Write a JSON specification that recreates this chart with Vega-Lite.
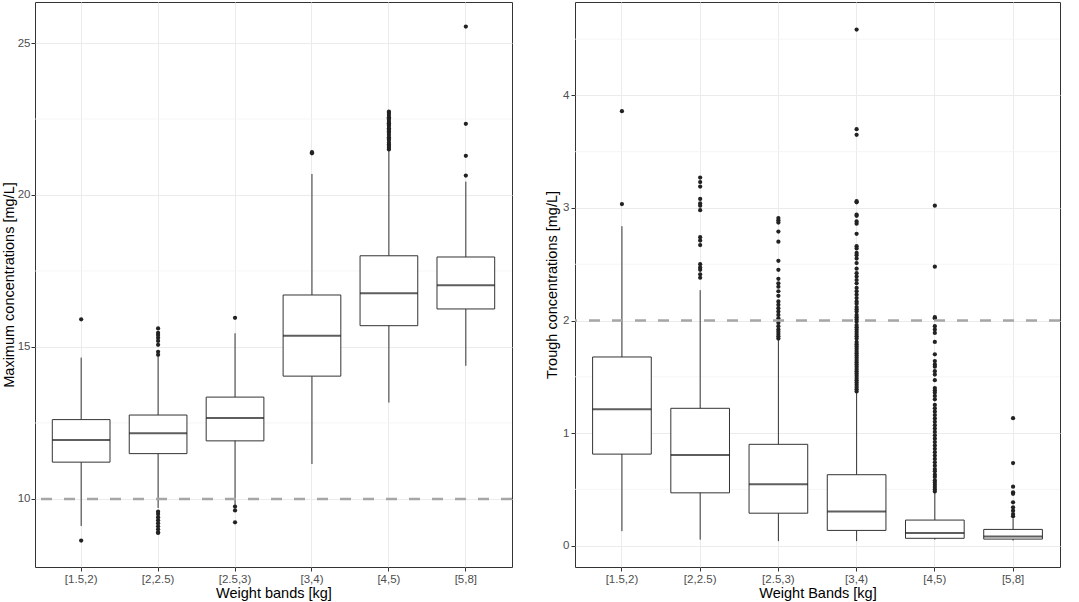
{
  "$schema": "https://vega.github.io/schema/vega-lite/v6.json",
  "padding": {"left": 0, "top": 1, "right": 0, "bottom": 0},
  "background": "white",
  "spacing": 30,
  "config": {
    "view": {"stroke": "#333333", "strokeWidth": 1},
    "axis": {
      "gridColor": "#EBEBEB", "gridWidth": 1, "domain": false,
      "tickColor": "#333333", "tickSize": 4, "labelPadding": 2,
      "labelFont": "Liberation Sans", "labelFontSize": 11.5, "labelColor": "#4D4D4D",
      "titleFont": "Liberation Sans", "titleFontSize": 14.5, "titleFontWeight": "normal", "titleColor": "#000000"
    },
    "axisX": {"labelAngle": 0, "titlePadding": 2},
    "axisY": {"titlePadding": 3, "format": "~g"}
  },
  "datasets": {
    "maxbox": [
      {"band": "[1.5,2)", "lower": 9.11, "q1": 11.21, "median": 11.94, "q3": 12.61, "upper": 14.65},
      {"band": "[2,2.5)", "lower": 9.70, "q1": 11.49, "median": 12.16, "q3": 12.76, "upper": 14.68},
      {"band": "[2.5,3)", "lower": 9.80, "q1": 11.91, "median": 12.66, "q3": 13.35, "upper": 15.45},
      {"band": "[3,4)", "lower": 11.15, "q1": 14.04, "median": 15.37, "q3": 16.71, "upper": 20.69},
      {"band": "[4,5)", "lower": 13.17, "q1": 15.70, "median": 16.77, "q3": 18.00, "upper": 21.48},
      {"band": "[5,8]", "lower": 14.38, "q1": 16.25, "median": 17.03, "q3": 17.96, "upper": 20.44}
    ],
    "maxout": [
      {"band": "[1.5,2)", "value": 15.91}, {"band": "[1.5,2)", "value": 8.63},
      {"band": "[2,2.5)", "value": 15.61}, {"band": "[2,2.5)", "value": 15.46}, {"band": "[2,2.5)", "value": 15.39},
      {"band": "[2,2.5)", "value": 15.30}, {"band": "[2,2.5)", "value": 15.20}, {"band": "[2,2.5)", "value": 15.07},
      {"band": "[2,2.5)", "value": 14.84}, {"band": "[2,2.5)", "value": 14.74},
      {"band": "[2,2.5)", "value": 9.58}, {"band": "[2,2.5)", "value": 9.50}, {"band": "[2,2.5)", "value": 9.40},
      {"band": "[2,2.5)", "value": 9.30}, {"band": "[2,2.5)", "value": 9.20}, {"band": "[2,2.5)", "value": 9.10},
      {"band": "[2,2.5)", "value": 9.00}, {"band": "[2,2.5)", "value": 8.90}, {"band": "[2,2.5)", "value": 8.88},
      {"band": "[2.5,3)", "value": 15.96}, {"band": "[2.5,3)", "value": 9.75}, {"band": "[2.5,3)", "value": 9.62},
      {"band": "[2.5,3)", "value": 9.23},
      {"band": "[3,4)", "value": 21.37}, {"band": "[3,4)", "value": 21.41},
      {"band": "[4,5)", "value": 22.74}, {"band": "[4,5)", "value": 22.70}, {"band": "[4,5)", "value": 22.63},
      {"band": "[4,5)", "value": 22.56}, {"band": "[4,5)", "value": 22.52}, {"band": "[4,5)", "value": 22.47},
      {"band": "[4,5)", "value": 22.40}, {"band": "[4,5)", "value": 22.36}, {"band": "[4,5)", "value": 22.31},
      {"band": "[4,5)", "value": 22.27}, {"band": "[4,5)", "value": 22.20}, {"band": "[4,5)", "value": 22.15},
      {"band": "[4,5)", "value": 22.09}, {"band": "[4,5)", "value": 22.04}, {"band": "[4,5)", "value": 21.97},
      {"band": "[4,5)", "value": 21.90}, {"band": "[4,5)", "value": 21.85}, {"band": "[4,5)", "value": 21.81},
      {"band": "[4,5)", "value": 21.72}, {"band": "[4,5)", "value": 21.66}, {"band": "[4,5)", "value": 21.61},
      {"band": "[4,5)", "value": 21.55}, {"band": "[4,5)", "value": 21.50},
      {"band": "[5,8]", "value": 20.64}, {"band": "[5,8]", "value": 21.29}, {"band": "[5,8]", "value": 22.34},
      {"band": "[5,8]", "value": 25.54}
    ],
    "troughbox": [
      {"band": "[1.5,2)", "lower": 0.129, "q1": 0.813, "median": 1.211, "q3": 1.676, "upper": 2.838},
      {"band": "[2,2.5)", "lower": 0.053, "q1": 0.469, "median": 0.805, "q3": 1.22, "upper": 2.27},
      {"band": "[2.5,3)", "lower": 0.04, "q1": 0.288, "median": 0.545, "q3": 0.90, "upper": 1.83},
      {"band": "[3,4)", "lower": 0.04, "q1": 0.135, "median": 0.303, "q3": 0.63, "upper": 1.36},
      {"band": "[4,5)", "lower": 0.053, "q1": 0.065, "median": 0.112, "q3": 0.227, "upper": 0.465},
      {"band": "[5,8]", "lower": 0.045, "q1": 0.058, "median": 0.082, "q3": 0.144, "upper": 0.24}
    ],
    "troughout": [
      {"band": "[1.5,2)", "value": 3.86}, {"band": "[1.5,2)", "value": 3.035},
      {"band": "[2,2.5)", "value": 3.27}, {"band": "[2,2.5)", "value": 3.23}, {"band": "[2,2.5)", "value": 3.19},
      {"band": "[2,2.5)", "value": 3.08}, {"band": "[2,2.5)", "value": 3.04}, {"band": "[2,2.5)", "value": 3.02},
      {"band": "[2,2.5)", "value": 2.98}, {"band": "[2,2.5)", "value": 2.74}, {"band": "[2,2.5)", "value": 2.71},
      {"band": "[2,2.5)", "value": 2.67}, {"band": "[2,2.5)", "value": 2.50}, {"band": "[2,2.5)", "value": 2.47},
      {"band": "[2,2.5)", "value": 2.45}, {"band": "[2,2.5)", "value": 2.41}, {"band": "[2,2.5)", "value": 2.38},
      {"band": "[2.5,3)", "value": 2.91}, {"band": "[2.5,3)", "value": 2.89}, {"band": "[2.5,3)", "value": 2.87},
      {"band": "[2.5,3)", "value": 2.79}, {"band": "[2.5,3)", "value": 2.70}, {"band": "[2.5,3)", "value": 2.53},
      {"band": "[2.5,3)", "value": 2.45}, {"band": "[2.5,3)", "value": 2.37}, {"band": "[2.5,3)", "value": 2.33},
      {"band": "[2.5,3)", "value": 2.30}, {"band": "[2.5,3)", "value": 2.26}, {"band": "[2.5,3)", "value": 2.22},
      {"band": "[2.5,3)", "value": 2.17}, {"band": "[2.5,3)", "value": 2.14}, {"band": "[2.5,3)", "value": 2.11},
      {"band": "[2.5,3)", "value": 2.08}, {"band": "[2.5,3)", "value": 2.05}, {"band": "[2.5,3)", "value": 2.02},
      {"band": "[2.5,3)", "value": 1.98}, {"band": "[2.5,3)", "value": 1.95}, {"band": "[2.5,3)", "value": 1.92},
      {"band": "[2.5,3)", "value": 1.90}, {"band": "[2.5,3)", "value": 1.88}, {"band": "[2.5,3)", "value": 1.86},
      {"band": "[2.5,3)", "value": 1.84},
      {"band": "[3,4)", "value": 4.585}, {"band": "[3,4)", "value": 3.70}, {"band": "[3,4)", "value": 3.65},
      {"band": "[3,4)", "value": 3.06}, {"band": "[3,4)", "value": 3.05}, {"band": "[3,4)", "value": 2.94},
      {"band": "[3,4)", "value": 2.93}, {"band": "[3,4)", "value": 2.88}, {"band": "[3,4)", "value": 2.86},
      {"band": "[3,4)", "value": 2.77}, {"band": "[3,4)", "value": 2.66}, {"band": "[3,4)", "value": 2.64},
      {"band": "[3,4)", "value": 2.60}, {"band": "[3,4)", "value": 2.58}, {"band": "[3,4)", "value": 2.55},
      {"band": "[3,4)", "value": 2.51}, {"band": "[3,4)", "value": 2.46}, {"band": "[3,4)", "value": 2.42},
      {"band": "[3,4)", "value": 2.39}, {"band": "[3,4)", "value": 2.36}, {"band": "[3,4)", "value": 2.33},
      {"band": "[3,4)", "value": 2.29}, {"band": "[3,4)", "value": 2.26}, {"band": "[3,4)", "value": 2.23},
      {"band": "[3,4)", "value": 2.20}, {"band": "[3,4)", "value": 2.17}, {"band": "[3,4)", "value": 2.15},
      {"band": "[3,4)", "value": 2.12}, {"band": "[3,4)", "value": 2.10}, {"band": "[3,4)", "value": 2.08},
      {"band": "[3,4)", "value": 2.05}, {"band": "[3,4)", "value": 2.03}, {"band": "[3,4)", "value": 2.01},
      {"band": "[3,4)", "value": 1.99}, {"band": "[3,4)", "value": 1.96}, {"band": "[3,4)", "value": 1.94},
      {"band": "[3,4)", "value": 1.92}, {"band": "[3,4)", "value": 1.90}, {"band": "[3,4)", "value": 1.88},
      {"band": "[3,4)", "value": 1.86}, {"band": "[3,4)", "value": 1.84}, {"band": "[3,4)", "value": 1.81},
      {"band": "[3,4)", "value": 1.79}, {"band": "[3,4)", "value": 1.77}, {"band": "[3,4)", "value": 1.75},
      {"band": "[3,4)", "value": 1.73}, {"band": "[3,4)", "value": 1.71}, {"band": "[3,4)", "value": 1.69},
      {"band": "[3,4)", "value": 1.67}, {"band": "[3,4)", "value": 1.65}, {"band": "[3,4)", "value": 1.63},
      {"band": "[3,4)", "value": 1.61}, {"band": "[3,4)", "value": 1.59}, {"band": "[3,4)", "value": 1.57},
      {"band": "[3,4)", "value": 1.55}, {"band": "[3,4)", "value": 1.53}, {"band": "[3,4)", "value": 1.51},
      {"band": "[3,4)", "value": 1.49}, {"band": "[3,4)", "value": 1.47}, {"band": "[3,4)", "value": 1.45},
      {"band": "[3,4)", "value": 1.43}, {"band": "[3,4)", "value": 1.41}, {"band": "[3,4)", "value": 1.39},
      {"band": "[3,4)", "value": 1.37},
      {"band": "[4,5)", "value": 3.02}, {"band": "[4,5)", "value": 2.478}, {"band": "[4,5)", "value": 2.03},
      {"band": "[4,5)", "value": 2.02}, {"band": "[4,5)", "value": 1.95}, {"band": "[4,5)", "value": 1.92},
      {"band": "[4,5)", "value": 1.89}, {"band": "[4,5)", "value": 1.81}, {"band": "[4,5)", "value": 1.70},
      {"band": "[4,5)", "value": 1.64}, {"band": "[4,5)", "value": 1.61}, {"band": "[4,5)", "value": 1.59},
      {"band": "[4,5)", "value": 1.55}, {"band": "[4,5)", "value": 1.52}, {"band": "[4,5)", "value": 1.47},
      {"band": "[4,5)", "value": 1.40}, {"band": "[4,5)", "value": 1.38}, {"band": "[4,5)", "value": 1.36},
      {"band": "[4,5)", "value": 1.33}, {"band": "[4,5)", "value": 1.30}, {"band": "[4,5)", "value": 1.25},
      {"band": "[4,5)", "value": 1.22}, {"band": "[4,5)", "value": 1.19}, {"band": "[4,5)", "value": 1.16},
      {"band": "[4,5)", "value": 1.13}, {"band": "[4,5)", "value": 1.10}, {"band": "[4,5)", "value": 1.07},
      {"band": "[4,5)", "value": 1.04}, {"band": "[4,5)", "value": 1.01}, {"band": "[4,5)", "value": 0.98},
      {"band": "[4,5)", "value": 0.95}, {"band": "[4,5)", "value": 0.92}, {"band": "[4,5)", "value": 0.89},
      {"band": "[4,5)", "value": 0.86}, {"band": "[4,5)", "value": 0.83}, {"band": "[4,5)", "value": 0.80},
      {"band": "[4,5)", "value": 0.77}, {"band": "[4,5)", "value": 0.74}, {"band": "[4,5)", "value": 0.71},
      {"band": "[4,5)", "value": 0.68}, {"band": "[4,5)", "value": 0.66}, {"band": "[4,5)", "value": 0.63},
      {"band": "[4,5)", "value": 0.61}, {"band": "[4,5)", "value": 0.58}, {"band": "[4,5)", "value": 0.56},
      {"band": "[4,5)", "value": 0.54}, {"band": "[4,5)", "value": 0.52}, {"band": "[4,5)", "value": 0.50},
      {"band": "[4,5)", "value": 0.48},
      {"band": "[5,8]", "value": 1.132}, {"band": "[5,8]", "value": 0.734}, {"band": "[5,8]", "value": 0.524},
      {"band": "[5,8]", "value": 0.474}, {"band": "[5,8]", "value": 0.46}, {"band": "[5,8]", "value": 0.385},
      {"band": "[5,8]", "value": 0.34}, {"band": "[5,8]", "value": 0.31}, {"band": "[5,8]", "value": 0.28},
      {"band": "[5,8]", "value": 0.26}
    ]
  },
  "hconcat": [
    {
      "width": 477,
      "height": 565,
      "layer": [
        {
          "data": {"values": [{"g": 12.5}, {"g": 17.5}, {"g": 22.5}]},
          "mark": {"type": "rule", "color": "#F3F3F3", "strokeWidth": 0.8},
          "encoding": {"y": {"field": "g", "type": "quantitative", "title": "Maximum concentrations [mg/L]"}}
        },
        {
          "data": {"name": "maxbox"},
          "mark": {"type": "rule", "color": "#333333", "strokeWidth": 1},
          "encoding": {
            "x": {"field": "band", "type": "nominal", "title": "Weight bands [kg]",
                  "scale": {"domain": ["[1.5,2)", "[2,2.5)", "[2.5,3)", "[3,4)", "[4,5)", "[5,8]"], "paddingInner": 0.25, "paddingOuter": 0.225},
                  "axis": {"grid": true}},
            "y": {"field": "lower", "type": "quantitative", "title": "Maximum concentrations [mg/L]",
                  "scale": {"domain": [7.76, 26.35], "nice": false, "zero": false},
                  "axis": {"values": [10, 15, 20, 25], "titlePadding": 1, "labelPadding": 1}},
            "y2": {"field": "upper"}
          }
        },
        {
          "data": {"name": "maxbox"},
          "mark": {"type": "bar", "fill": "white", "stroke": "#333333", "strokeWidth": 1},
          "encoding": {
            "x": {"field": "band", "type": "nominal"},
            "y": {"field": "q1", "type": "quantitative", "title": "Maximum concentrations [mg/L]"},
            "y2": {"field": "q3"}
          }
        },
        {
          "data": {"name": "maxbox"},
          "mark": {"type": "tick", "color": "#1A1A1A", "thickness": 2, "size": 57.7},
          "encoding": {
            "x": {"field": "band", "type": "nominal"},
            "y": {"field": "median", "type": "quantitative", "title": "Maximum concentrations [mg/L]"}
          }
        },
        {
          "data": {"name": "maxout"},
          "mark": {"type": "point", "filled": true, "color": "#222222", "size": 18, "opacity": 1},
          "encoding": {
            "x": {"field": "band", "type": "nominal"},
            "y": {"field": "value", "type": "quantitative", "title": "Maximum concentrations [mg/L]"}
          }
        },
        {
          "data": {"values": [{"ref": 10}]},
          "mark": {"type": "rule", "color": "#A6A6A6", "strokeWidth": 2.5, "strokeDash": [11, 12]},
          "encoding": {"y": {"field": "ref", "type": "quantitative", "title": "Maximum concentrations [mg/L]"}}
        }
      ]
    },
    {
      "width": 485,
      "height": 565,
      "layer": [
        {
          "data": {"values": [{"g": 0.5}, {"g": 1.5}, {"g": 2.5}, {"g": 3.5}, {"g": 4.5}]},
          "mark": {"type": "rule", "color": "#F3F3F3", "strokeWidth": 0.8},
          "encoding": {"y": {"field": "g", "type": "quantitative", "title": "Trough concentrations [mg/L]"}}
        },
        {
          "data": {"name": "troughbox"},
          "mark": {"type": "rule", "color": "#333333", "strokeWidth": 1},
          "encoding": {
            "x": {"field": "band", "type": "nominal", "title": "Weight Bands [kg]",
                  "scale": {"domain": ["[1.5,2)", "[2,2.5)", "[2.5,3)", "[3,4)", "[4,5)", "[5,8]"], "paddingInner": 0.25, "paddingOuter": 0.225},
                  "axis": {"grid": true}},
            "y": {"field": "lower", "type": "quantitative", "title": "Trough concentrations [mg/L]",
                  "scale": {"domain": [-0.19, 4.83], "nice": false, "zero": false},
                  "axis": {"values": [0, 1, 2, 3, 4]}},
            "y2": {"field": "upper"}
          }
        },
        {
          "data": {"name": "troughbox"},
          "mark": {"type": "bar", "fill": "white", "stroke": "#333333", "strokeWidth": 1},
          "encoding": {
            "x": {"field": "band", "type": "nominal"},
            "y": {"field": "q1", "type": "quantitative", "title": "Trough concentrations [mg/L]"},
            "y2": {"field": "q3"}
          }
        },
        {
          "data": {"name": "troughbox"},
          "mark": {"type": "tick", "color": "#1A1A1A", "thickness": 2, "size": 58.7},
          "encoding": {
            "x": {"field": "band", "type": "nominal"},
            "y": {"field": "median", "type": "quantitative", "title": "Trough concentrations [mg/L]"}
          }
        },
        {
          "data": {"name": "troughout"},
          "mark": {"type": "point", "filled": true, "color": "#222222", "size": 18, "opacity": 1},
          "encoding": {
            "x": {"field": "band", "type": "nominal"},
            "y": {"field": "value", "type": "quantitative", "title": "Trough concentrations [mg/L]"}
          }
        },
        {
          "data": {"values": [{"ref": 2}]},
          "mark": {"type": "rule", "color": "#A6A6A6", "strokeWidth": 2.5, "strokeDash": [11, 12]},
          "encoding": {"y": {"field": "ref", "type": "quantitative", "title": "Trough concentrations [mg/L]"}}
        }
      ]
    }
  ]
}
